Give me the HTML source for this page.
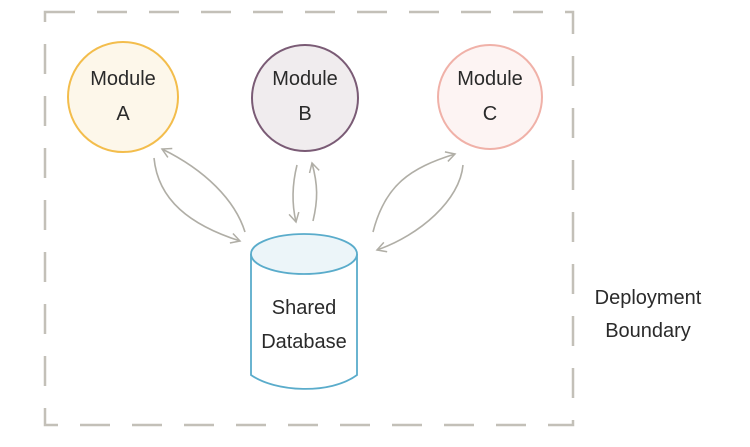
<!DOCTYPE html>
<html><head><style>
html,body{margin:0;padding:0;background:#fff;}
svg{display:block;}
text{font-family:"Liberation Sans",sans-serif;font-size:20px;fill:#2a2a2a;text-anchor:middle;}
</style></head><body>
<svg width="750" height="447" viewBox="0 0 750 447" xmlns="http://www.w3.org/2000/svg">
<defs>
<marker id="ah" markerWidth="12" markerHeight="12" refX="10" refY="6" orient="auto" markerUnits="userSpaceOnUse">
<path d="M1,1 L10,6 L1,11" fill="none" stroke="#b0aea6" stroke-width="1.5"/>
</marker>
</defs>
<rect x="45" y="12" width="528" height="413" fill="none" stroke="#c3c0b8" stroke-width="2.5" stroke-dasharray="30,22"/>
<circle cx="123" cy="97" r="55" fill="#fdf7ea" stroke="#f3bd4c" stroke-width="2"/>
<circle cx="305" cy="98" r="53" fill="#f0ecee" stroke="#7a5b75" stroke-width="2"/>
<circle cx="490" cy="97" r="52" fill="#fdf4f3" stroke="#f0b1a8" stroke-width="2"/>
<text x="123" y="85">Module</text><text x="123" y="120">A</text>
<text x="305" y="85">Module</text><text x="305" y="120">B</text>
<text x="490" y="85">Module</text><text x="490" y="120">C</text>
<g fill="none" stroke="#b0aea6" stroke-width="1.6">
<path d="M154,158 C158,200 190,225 240,241" marker-end="url(#ah)"/>
<path d="M245,232 C235,200 205,170 162,149" marker-end="url(#ah)"/>
<path d="M297,165 C292,185 292,205 296,222" marker-end="url(#ah)"/>
<path d="M313,221 C318,200 318,185 312,163" marker-end="url(#ah)"/>
<path d="M373,232 C385,185 410,168 455,154" marker-end="url(#ah)"/>
<path d="M463,165 C460,200 420,235 377,250" marker-end="url(#ah)"/>
</g>
<path d="M251,254 L251,375 C275,392 330,395 357,375 L357,254" fill="#fff" stroke="#5aaccb" stroke-width="1.8"/>
<ellipse cx="304" cy="254" rx="53" ry="20" fill="#ecf5f9" stroke="#5aaccb" stroke-width="1.8"/>
<text x="304" y="314">Shared</text>
<text x="304" y="348">Database</text>
<text x="648" y="304">Deployment</text>
<text x="648" y="337">Boundary</text>
</svg>
</body></html>
